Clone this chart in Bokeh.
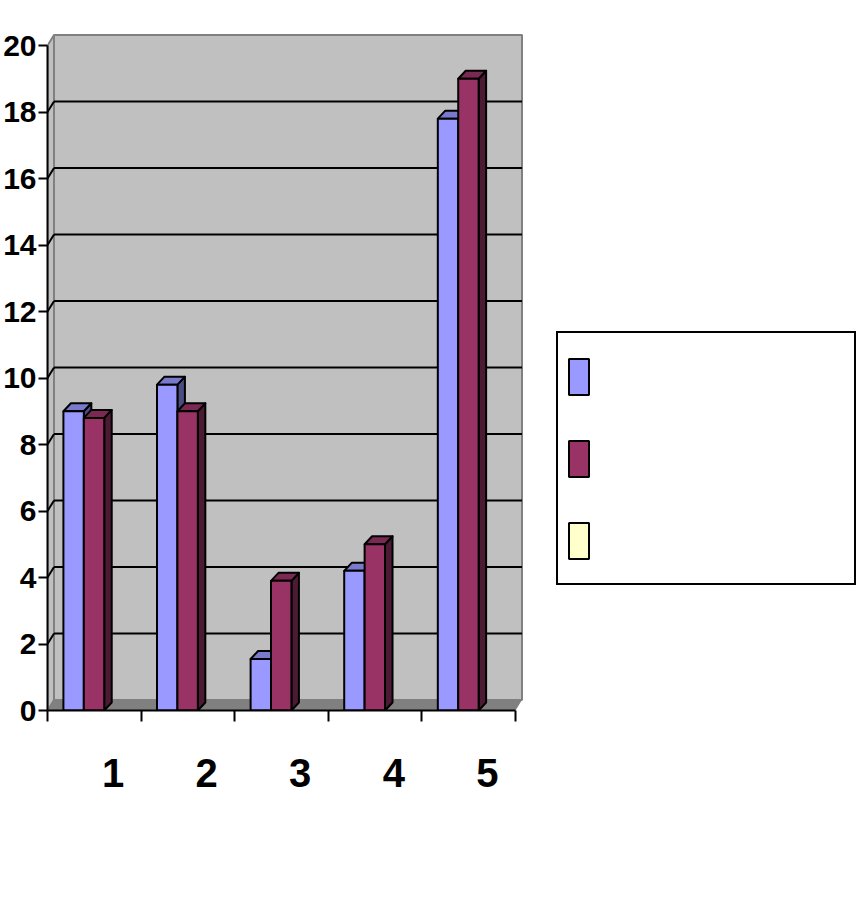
from bokeh.plotting import figure
from bokeh.models import ColumnDataSource, FixedTicker, Legend, LegendItem, Range1d
from bokeh.embed import file_html
from bokeh.resources import INLINE

# ---------------- data ----------------
categories = [1, 2, 3, 4, 5]
x_labels = ["1", "2", "3", "4", "5"]
series1 = [9.0, 9.8, 1.55, 4.2, 17.8]
series2 = [8.8, 9.0, 3.9, 5.0, 19.0]
series3 = [0, 0, 0, 0, 0]
y_ticks = [0, 2, 4, 6, 8, 10, 12, 14, 16, 18, 20]

# ---------------- styles / geometry ----------------
FONT = "'Liberation Sans', Arial, sans-serif"
X_PX = 93.6          # px per category
Y_PX = 33.25         # px per value unit
FRAME_W = 813
FRAME_H = 710
WALL_DX = 6.5 / X_PX
WALL_DY = 10.5 / Y_PX
BAR_DX = 7.5 / X_PX
BAR_DY = 8 / Y_PX
BAR_W = 0.218
OFFSETS = [-0.221, -0.003, 0.215]
LABEL_SHIFT = 0.2
COLORS = [("#9999FF", "#7A7ACC", "#4C4C80"),
          ("#993366", "#7A2952", "#4D1A33"),
          ("#FFFFCC", "#CCCCA3", "#808066")]

y_max = y_ticks[-1]
x_lo = categories[0] - 0.5
x_hi = categories[-1] + 0.5

p = figure(frame_width=FRAME_W, frame_height=FRAME_H,
           x_range=Range1d(x_lo, x_lo + FRAME_W / X_PX),
           y_range=Range1d(0, FRAME_H / Y_PX),
           output_backend="svg", toolbar_location=None,
           min_border_left=46, min_border_right=0, min_border_top=0,
           min_border_bottom=110, background_fill_color="white",
           border_fill_color="white")
p.outline_line_color = None
p.xgrid.visible = False
p.ygrid.visible = False

# third series: zero-height bars, hidden under the floor
r3 = p.vbar(x=[c + OFFSETS[2] for c in categories], top=series3, bottom=0, width=BAR_W,
            fill_color=COLORS[2][0], line_color="black", line_width=2)

# floor
p.patch(x=[x_lo, x_hi, x_hi + WALL_DX, x_lo + WALL_DX],
        y=[0, 0, WALL_DY, WALL_DY], fill_color="#808080", line_color=None)
# side wall
p.patch(x=[x_lo, x_lo + WALL_DX, x_lo + WALL_DX, x_lo],
        y=[0, WALL_DY, y_max + WALL_DY, y_max], fill_color="#C0C0C0",
        line_color="#808080", line_width=2)
# back wall
p.quad(left=[x_lo + WALL_DX], right=[x_hi + WALL_DX], bottom=[WALL_DY],
       top=[y_max + WALL_DY], fill_color="#C0C0C0", line_color="#808080", line_width=2)

inner = y_ticks[1:-1]
p.segment(x0=[x_lo + WALL_DX] * len(inner), x1=[x_hi + WALL_DX] * len(inner),
          y0=[v + WALL_DY for v in inner], y1=[v + WALL_DY for v in inner],
          line_color="black", line_width=2)
p.segment(x0=[x_lo] * len(inner), x1=[x_lo + WALL_DX] * len(inner),
          y0=inner, y1=[v + WALL_DY for v in inner],
          line_color="black", line_width=2)

front_renderers = []
for vals, off, (cf, ct, cs) in zip([series1, series2], OFFSETS[:2], COLORS[:2]):
    centers = [c + off for c in categories]
    lefts = [c - BAR_W / 2 for c in centers]
    rights = [c + BAR_W / 2 for c in centers]
    p.patches(xs=[[r, r + BAR_DX, r + BAR_DX, r] for r in rights],
              ys=[[0, BAR_DY, v + BAR_DY, v] for v in vals],
              fill_color=cs, line_color="black", line_width=2, line_join="round")
    p.patches(xs=[[l, r, r + BAR_DX, l + BAR_DX] for l, r in zip(lefts, rights)],
              ys=[[v, v, v + BAR_DY, v + BAR_DY] for v in vals],
              fill_color=ct, line_color="black", line_width=2, line_join="round")
    src = ColumnDataSource(dict(x=centers, top=vals))
    r = p.vbar(x="x", top="top", bottom=0, width=BAR_W, source=src,
               fill_color=cf, line_color="black", line_width=2)
    front_renderers.append(r)
front_renderers.append(r3)

# axes
p.yaxis.ticker = FixedTicker(ticks=y_ticks)
p.yaxis.bounds = (0, y_max)
p.yaxis.major_tick_out = 9
p.yaxis.major_tick_in = 0
p.yaxis.minor_tick_line_color = None
p.yaxis.axis_line_width = 2
p.yaxis.major_tick_line_width = 2
p.yaxis.major_label_standoff = 2
p.yaxis.major_label_text_font_size = "30px"

label_pos = [c + LABEL_SHIFT for c in categories]
boundaries = [c - 0.5 for c in categories] + [categories[-1] + 0.5]
p.xaxis.ticker = FixedTicker(ticks=label_pos, minor_ticks=boundaries)
p.xaxis.major_label_overrides = {pos: lab for pos, lab in zip(label_pos, x_labels)}
p.xaxis.bounds = (x_lo, x_hi)
p.xaxis.major_tick_out = 0
p.xaxis.major_tick_in = 0
p.xaxis.minor_tick_out = 11
p.xaxis.minor_tick_in = 0
p.xaxis.minor_tick_line_width = 2
p.xaxis.axis_line_width = 2
p.xaxis.major_label_standoff = 37
p.xaxis.major_label_text_font_size = "40px"

for ax in (p.xaxis, p.yaxis):
    ax.major_label_text_font = FONT
    ax.major_label_text_font_style = "bold"
    ax.major_label_text_color = "black"
    ax.axis_line_color = "black"

legend = Legend(items=[LegendItem(label=" ", renderers=[r]) for r in front_renderers],
                location=(509, 125), orientation="vertical",
                glyph_width=25, glyph_height=45, label_height=70, label_width=250,
                label_standoff=5, spacing=12, padding=8,
                border_line_color="black", border_line_width=2, border_line_alpha=1.0,
                background_fill_color="white", background_fill_alpha=1.0)
p.add_layout(legend)

open("out.html", "w").write(file_html(p, INLINE))
